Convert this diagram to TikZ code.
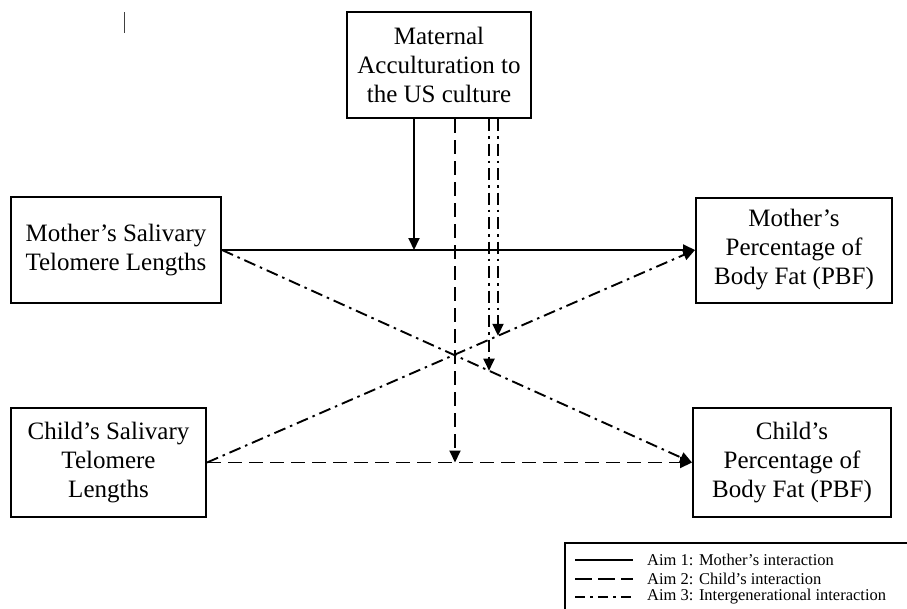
\documentclass[tikz,border=0pt]{standalone}
\usepackage{fontspec}
\setmainfont{Liberation Serif}
\usetikzlibrary{arrows.meta, positioning, intersections}

\tikzset{
  box/.style={draw, line width=2pt, align=center, inner sep=0pt,
    font=\fontsize{25}{29}\selectfont},
  aimone/.style={line width=1.9pt},
  aimtwo/.style={line width=1.9pt, dash pattern=on 14pt off 7pt},
  aimthree/.style={line width=1.9pt, dash pattern=on 12pt off 5pt on 2.5pt off 5pt},
  legtext/.style={inner sep=0pt, anchor=west, font=\fontsize{16.5}{18.5}\selectfont},
}

\begin{document}
\begin{tikzpicture}[x=1pt, y=-1pt, > = {Triangle[length=12pt, width=11pt]}]
  \useasboundingbox (0,0) rectangle (907,608);

  % boxes
  \node [box, minimum width=184pt, minimum height=106pt] (acc) at (439,65)
    {Maternal\\Acculturation to\\the US culture};
  \node [box, minimum width=210pt, minimum height=106pt] (mtl) at (116,250)
    {Mother’s Salivary\\Telomere Lengths};
  \node [box, minimum width=195pt, minimum height=109pt] (ctl) at (108.5,462.5)
    {Child’s Salivary\\Telomere\\Lengths};
  \node [box, minimum width=196pt, minimum height=105pt] (mpbf) at (794,250)
    {Mother’s\\Percentage of\\Body Fat (PBF)};
  \node [box, minimum width=198pt, minimum height=109pt] (cpbf) at (792,462.5)
    {Child’s\\Percentage of\\Body Fat (PBF)};

  % paths
  \draw [aimone, ->] (mtl.east) -- (mpbf.west);
  \draw [aimtwo, ->] (ctl.east) -- (cpbf.west);
  \draw [aimthree, ->, name path=diagm] (mtl.east) -- (cpbf.west);
  \draw [aimthree, ->, name path=diagc] (ctl.east) -- (mpbf.west);

  % moderation
  \draw [aimone, ->] ([xshift=-25pt]acc.south) -- ([xshift=-25pt]acc.south |- mtl.east);
  \draw [aimtwo, ->] ([xshift=16pt]acc.south) -- ([xshift=16pt]acc.south |- ctl.east);
  \path [name path=vm] ([xshift=50pt]acc.south) -- ++(0,400);
  \path [name path=vc] ([xshift=59pt]acc.south) -- ++(0,400);
  \path [name intersections={of=vm and diagm, by=xm}];
  \path [name intersections={of=vc and diagc, by=xc}];
  \draw [aimthree, ->] ([xshift=50pt]acc.south) -- (xm);
  \draw [aimthree, ->] ([xshift=59pt]acc.south) -- (xc);

  % stray mark
  \draw [line width=1pt, black!75] (124,12) -- (124,33);

  % legend
  \draw [line width=1.2pt] (565,543) rectangle (915,615);
  \coordinate (l1s) at (575,560); \coordinate (l1e) at (633,560);
  \coordinate (l2s) at (575,579); \coordinate (l2e) at (633,579);
  \coordinate (l3s) at (575,597); \coordinate (l3e) at (633,597);
  \draw [aimone, line width=1.6pt] (l1s) -- (l1e);
  \draw [aimtwo, line width=1.6pt, dash pattern=on 17pt off 6pt] (l2s) -- (l2e);
  \draw [aimthree, line width=1.6pt, dash pattern=on 10pt off 5pt on 3pt off 5pt] (l3s) -- (l3e);
  \node [legtext, right=14pt of l1e] (a1) {Aim 1: Mother’s interaction};
  \node [legtext, right=14pt of l2e] (a2) {Aim 2: Child’s interaction};
  \node [legtext, right=14pt of l3e] (a3) {Aim 3: Intergenerational interaction};
\end{tikzpicture}
\end{document}
